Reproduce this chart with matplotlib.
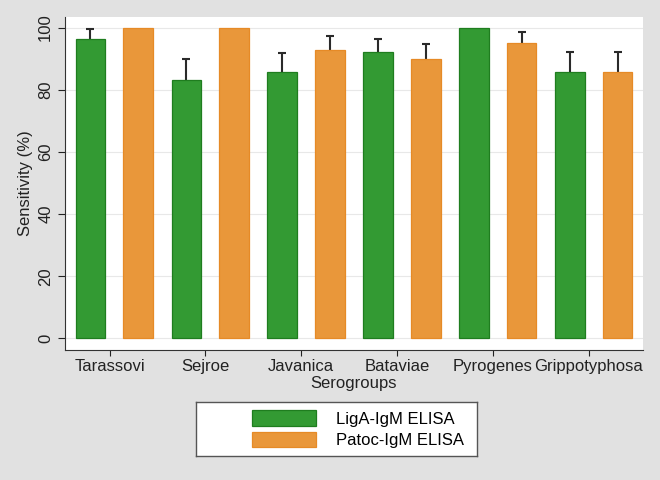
import matplotlib
matplotlib.use("Agg")
import matplotlib.pyplot as plt
from matplotlib.patches import Patch
import numpy as np

plt.rcParams["font.family"] = ["Liberation Sans", "DejaVu Sans"]

serogroups = ["Tarassovi", "Sejroe", "Javanica", "Bataviae", "Pyrogenes", "Grippotyphosa"]
liga_sens = [96.2, 83.3, 85.7, 92.2, 100.0, 85.7]
liga_err = [3.2, 6.5, 6.0, 4.0, 0.0, 6.3]
patoc_sens = [100.0, 100.0, 92.9, 90.0, 95.0, 85.7]
patoc_err = [0.0, 0.0, 4.3, 4.8, 3.7, 6.3]
series_names = ["LigA-IgM ELISA", "Patoc-IgM ELISA"]
yticks = [0, 20, 40, 60, 80, 100]

green, green_edge = "#339a33", "#1f7d1f"
orange, orange_edge = "#e9973a", "#e68a26"
bg = "#e1e1e1"

fig = plt.figure(figsize=(6.6, 4.8), dpi=100, facecolor=bg)
ax = fig.add_axes([65 / 660, 1 - 349.5 / 480, 578 / 660, 332.8 / 480])
ax.set_facecolor("white")

x = np.arange(len(serogroups))
w = 0.308
off = 0.249


def draw(xpos, vals, errs, fc, ec):
    vals = np.array(vals)
    errs = np.array(errs)
    ax.bar(xpos, vals, width=w, color=fc, edgecolor=ec, linewidth=0.9, zorder=3)
    m = errs > 0
    eb = ax.errorbar(xpos[m], vals[m], yerr=[np.zeros(m.sum()), errs[m]], fmt="none",
                     ecolor="#2a2a2a", elinewidth=1.5, capsize=3, capthick=1.5, zorder=2)
    eb[1][0].set_visible(False)


draw(x - off, liga_sens, liga_err, green, green_edge)
draw(x + off, patoc_sens, patoc_err, orange, orange_edge)

ax.set_xlim(-0.515, 5.515)
ax.set_ylim(-3.54, 103.5)
ax.set_yticks(yticks)
ax.set_yticklabels([str(v) for v in yticks], rotation=90, va="center")
ax.set_xticks(x - 0.05)
ax.set_xticklabels(serogroups)
ax.tick_params(axis="y", length=5, width=0.8, pad=3.5, labelsize=12, colors="#222222")
ax.tick_params(axis="x", length=4, width=0.8, pad=2.5, labelsize=12, colors="#222222")
ax.grid(axis="y", color="#e8e8e8", linewidth=0.8)
ax.set_axisbelow(True)
for s in ["top", "right"]:
    ax.spines[s].set_visible(False)
for s in ["left", "bottom"]:
    ax.spines[s].set_color("#333333")
    ax.spines[s].set_linewidth(0.8)

ax.set_xlabel("Serogroups", fontsize=12, labelpad=2, color="#222222")
ax.set_ylabel("Sensitivity (%)", fontsize=12, labelpad=4, color="#222222")

# legend box
lax = fig.add_axes([195.7 / 660, 1 - 456 / 480, 281.5 / 660, 53.7 / 480])
lax.set_facecolor("white")
lax.set_xticks([])
lax.set_yticks([])
for s in lax.spines.values():
    s.set_color("#555555")
    s.set_linewidth(1.0)
handles = [Patch(facecolor=green, edgecolor=green_edge, linewidth=0.9),
           Patch(facecolor=orange, edgecolor=orange_edge, linewidth=0.9)]
lax.legend(handles, series_names, loc="center left", bbox_to_anchor=(0.2, 0.5),
           frameon=False, fontsize=12, handlelength=3.84, handleheight=1.06,
           handletextpad=1.2, labelspacing=0.3, borderpad=0, borderaxespad=0)

fig.savefig("out.png", dpi=100, facecolor=bg)
